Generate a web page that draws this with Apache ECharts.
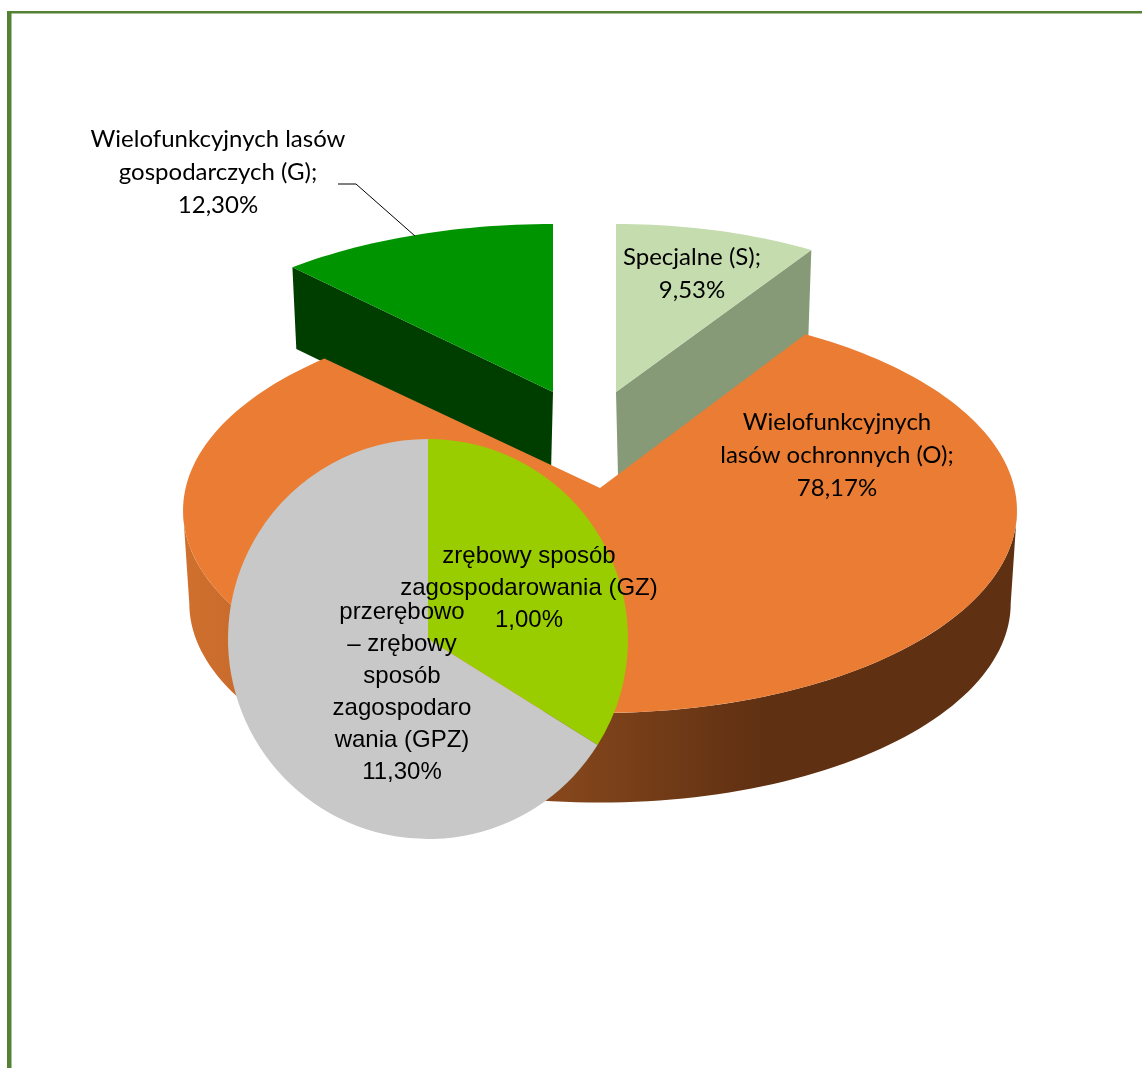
<!DOCTYPE html>
<html><head><meta charset="utf-8">
<style>html,body{margin:0;padding:0;background:#fff}#c{width:1142px;height:1068px}</style>
<script src="https://cdn.jsdelivr.net/npm/echarts@6/dist/echarts.min.js"></script>
</head><body><div id="c"></div>
<script>
// Data
var mainNames = ['Specjalne (S);', 'Wielofunkcyjnych\nlasów ochronnych (O);', 'Wielofunkcyjnych lasów\ngospodarczych (G);'];
var mainValues = [9.53, 78.17, 12.30];
var mainTopColors = ['#c4dcae', '#ea7d33', '#009500'];
var mainSideColors = ['#869a78', '#000000', '#003e00'];
var subNames = ['zrębowy sposób\nzagospodarowania (GZ)', 'przerębowo\n– zrębowy\nsposób\nzagospodaro\nwania (GPZ)'];
var subLabels = ['1,00%', '11,30%'];
var subDrawnShares = [33.9, 66.1]; // the reference draws the sub-pie with these proportions
var subColors = ['#9acd00', '#c8c8c8'];

// Layout of the tilted pie (perspective projection of a circle)
var sliceGeom = [
  {ax: 616, ay: 392, A: 388, B: 192.4, p: 0.145, depth: 84, rot: 0},
  {ax: 600, ay: 488, A: 414.4, B: 200, p: 0.111, depth: 93, rot: -1.5},
  {ax: 553, ay: 392, A: 412, B: 192.4, p: 0.145, depth: 80, rot: 0}
];
var labelPos = [[692, 274], [837, 455], [218, 172]];
var subLabelPos = [[529, 588], [402, 692]];
var total = mainValues.reduce(function (a, b) { return a + b; }, 0);

function project(g, deg, lower) {
  var t = deg * Math.PI / 180, u = Math.sin(t), v = Math.cos(t), w = 1 + g.p * v;
  var s = lower ? 0.985 : 1;
  return [g.ax + s * g.A * u / w, g.ay - s * g.B * v / w + (lower ? g.depth : 0)];
}
function arc(g, from, to, lower) {
  var pts = [], n = Math.max(2, Math.ceil(Math.abs(to - from) / 1.5));
  for (var i = 0; i <= n; i++) pts.push(project(g, from + (to - from) * i / n, lower));
  return pts;
}
function poly(points, fill) {
  return {type: 'polygon', shape: {points: points}, style: {fill: fill}};
}
function renderSlice(i) {
  var g = sliceGeom[i];
  var before = mainValues.slice(0, i).reduce(function (a, b) { return a + b; }, 0);
  var a0 = before / total * 360 + g.rot, a1 = a0 + mainValues[i] / total * 360;
  var apex = [g.ax, g.ay], children = [];
  var rim = arc(g, a0, a1, false);
  if (i === 1) {
    // front wall: from the right extreme, round the front, to the left extreme
    var e0 = Math.acos(-g.p) * 180 / Math.PI, e1 = 360 - e0;
    var top = arc(g, e0, e1, false), bottom = arc(g, e0, e1, true).reverse();
    children.push({
      type: 'polygon', shape: {points: top.concat(bottom)},
      style: {fill: {type: 'linear', x: 0, y: 0, x2: 1, y2: 0, colorStops: [
        {offset: 0, color: '#cf702e'}, {offset: 0.12, color: '#c4672a'}, {offset: 0.5, color: '#7d421a'},
        {offset: 0.7, color: '#5f3012'}, {offset: 1, color: '#5f3012'}]}}
    });
  } else if (i === 0) {
    children.push(poly([apex, project(g, a1, false), project(g, a1, true),
      [g.ax + 2, g.ay + g.depth]], mainSideColors[i]));
  } else {
    children.push(poly([project(g, a0, false), apex, [g.ax - 2, g.ay + g.depth],
      project(g, a0, true)], mainSideColors[i]));
  }
  children.push(poly([apex].concat(rim), mainTopColors[i]));
  children.push({type: 'text', z2: 50, style: {
    x: labelPos[i][0], y: labelPos[i][1], text: mainNames[i] + '\n' + mainValues[i].toFixed(2).replace('.', ',') + '%',
    align: 'center', verticalAlign: 'middle',
    fontFamily: 'Lato', fontSize: 24, lineHeight: 33, fill: '#000'
  }});
  return {type: 'group', children: children};
}

var chart = echarts.init(document.getElementById('c'), null, {renderer: 'canvas'});
var order = [2, 0, 1];
chart.setOption({
  animation: false,
  backgroundColor: '#fff',
  graphic: [
    {type: 'rect', z: 100, shape: {x: 7, y: 11, width: 1135, height: 2.5}, style: {fill: '#548235'}},
    {type: 'rect', z: 100, shape: {x: 7, y: 11, width: 4.5, height: 1057}, style: {fill: '#548235'}},
    {type: 'polyline', z: 100, shape: {points: [[338, 184], [356, 184], [415, 236]]},
      style: {stroke: '#000', lineWidth: 1, fill: 'none'}}
  ],
  series: [
    {
      type: 'custom', coordinateSystem: 'none', z: 2,
      data: order.map(function (k) { return [mainValues[k]]; }),
      renderItem: function (params) { return renderSlice(order[params.dataIndex]); }
    },
    {
      type: 'pie', z: 5, center: [428, 639], radius: [0, 200], startAngle: 90, clockwise: true,
      silent: true,
      data: subDrawnShares.map(function (v, i) {
        return {value: v, name: subNames[i], itemStyle: {color: subColors[i]}};
      }),
      label: {
        show: true, position: 'inside', color: '#000', fontFamily: 'Liberation Sans', fontSize: 24,
        lineHeight: 32, align: 'center', verticalAlign: 'middle',
        formatter: function (p) { return p.name + '\n' + subLabels[p.dataIndex]; }
      },
      labelLine: {show: false},
      labelLayout: function (p) {
        return {x: subLabelPos[p.dataIndex][0], y: subLabelPos[p.dataIndex][1], align: 'center', verticalAlign: 'middle'};
      }
    }
  ]
});
</script></body></html>
